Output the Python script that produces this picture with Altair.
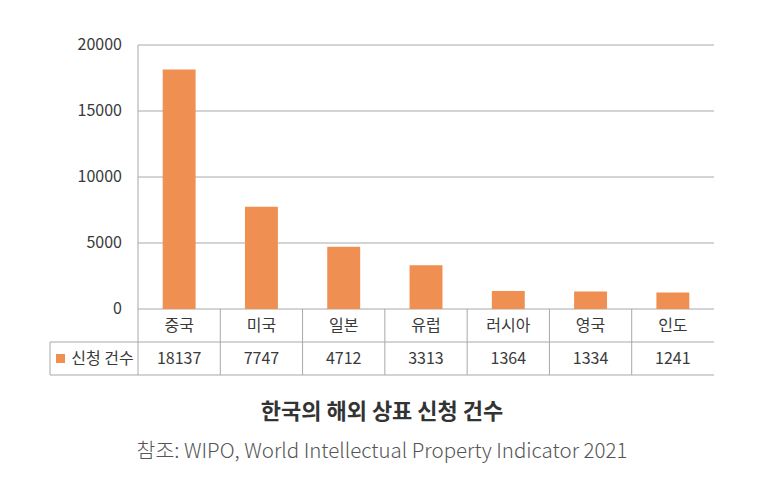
import altair as alt
import pandas as pd

categories = ["중국", "미국", "일본", "유럽", "러시아", "영국", "인도"]
values = [18137, 7747, 4712, 3313, 1364, 1334, 1241]
y_ticks = [0, 5000, 10000, 15000, 20000]
series_name = "신청 건수"
title_text = "한국의 해외 상표 신청 건수"
source_text = "참조: WIPO, World Intellectual Property Indicator 2021"

BAR = "#EF8F51"
LINE = "#A8A8A8"
TXT = "#3A3A3A"
FONT = "Noto Sans CJK KR"

n = len(categories)
legend_left = -88 / (576 / n)   # legend cell to the left of the plot
y_min = -5000                    # table rows below zero
row1 = -1250
row2 = -3750
row_sep = -2500

xs = alt.Scale(domain=[legend_left, n], nice=False, zero=False)
ys = alt.Scale(domain=[y_min, 20000], nice=False, zero=False)

df = pd.DataFrame({
    "cat": categories,
    "val": values,
    "x0": [i + 0.3 for i in range(n)],
    "x1": [i + 0.7 for i in range(n)],
    "xc": [i + 0.5 for i in range(n)],
    "zero": [0] * n,
    "r1": [row1] * n,
    "r2": [row2] * n,
    "label": [str(v) for v in values],
})

grid_df = pd.DataFrame({"y": y_ticks, "x0": [0] * len(y_ticks), "x1": [n] * len(y_ticks),
                        "lab": [str(t) for t in y_ticks]})

hlines = pd.DataFrame({"y": [row_sep, y_min], "x0": [legend_left] * 2, "x1": [n] * 2})
vlines = pd.DataFrame({
    "x": [0] + list(range(1, n)) + [legend_left],
    "y0": [20000] + [0] * (n - 1) + [row_sep],
    "y1": [y_min] * n + [y_min],
})
legend_df = pd.DataFrame({"x": [legend_left / 2], "y": [row2], "name": [series_name]})

base_x = dict(scale=xs, axis=None)
base_y = dict(scale=ys, axis=None)

grid = alt.Chart(grid_df).mark_rule(color=LINE, strokeWidth=1).encode(
    x=alt.X("x0:Q", **base_x), x2="x1:Q", y=alt.Y("y:Q", **base_y))
ylabels = alt.Chart(grid_df).mark_text(align="right", baseline="middle", dx=-16,
                                       font=FONT, fontSize=16, color=TXT).encode(
    x=alt.X("x0:Q", **base_x), y=alt.Y("y:Q", **base_y), text="lab:N")
hl = alt.Chart(hlines).mark_rule(color=LINE, strokeWidth=1).encode(
    x=alt.X("x0:Q", **base_x), x2="x1:Q", y=alt.Y("y:Q", **base_y))
vl = alt.Chart(vlines).mark_rule(color=LINE, strokeWidth=1).encode(
    x=alt.X("x:Q", **base_x), y=alt.Y("y0:Q", **base_y), y2="y1:Q")
bars = alt.Chart(df).mark_rect(color=BAR).encode(
    x=alt.X("x0:Q", **base_x), x2="x1:Q", y=alt.Y("val:Q", **base_y), y2="zero:Q")
cat_text = alt.Chart(df).mark_text(baseline="middle", font=FONT, fontSize=16, color=TXT).encode(
    x=alt.X("xc:Q", **base_x), y=alt.Y("r1:Q", **base_y), text="cat:N")
val_text = alt.Chart(df).mark_text(baseline="middle", font=FONT, fontSize=16, color=TXT).encode(
    x=alt.X("xc:Q", **base_x), y=alt.Y("r2:Q", **base_y), text="label:N")
leg_sq = alt.Chart(legend_df).mark_square(color=BAR, size=81, opacity=1, filled=True).encode(
    x=alt.X("x:Q", **base_x), y=alt.Y("y:Q", **base_y), xOffset=alt.value(-33.5))
leg_txt = alt.Chart(legend_df).mark_text(baseline="middle", dx=8.5, font=FONT, fontSize=16, color=TXT).encode(
    x=alt.X("x:Q", **base_x), y=alt.Y("y:Q", **base_y), text="name:N")

chart = alt.layer(grid, hl, vl, bars, ylabels, cat_text, val_text, leg_sq, leg_txt).properties(
    width=664, height=330,
    background="white",
    padding={"left": 50, "top": 45, "right": 67, "bottom": 111},
    autosize=alt.AutoSizeParams(type="none"),
    title=alt.TitleParams(
        text=title_text, subtitle=source_text, orient="bottom", anchor="middle",
        font=FONT, fontSize=22, fontWeight="bold", color="#333333", offset=26,
        subtitleFont=FONT, subtitleFontSize=20.5, subtitleFontWeight=300,
        subtitleColor="#555555", subtitlePadding=18),
).configure_view(strokeWidth=0, strokeOpacity=0)

chart.save("out.html", embed_options={"renderer": "svg", "actions": False})
